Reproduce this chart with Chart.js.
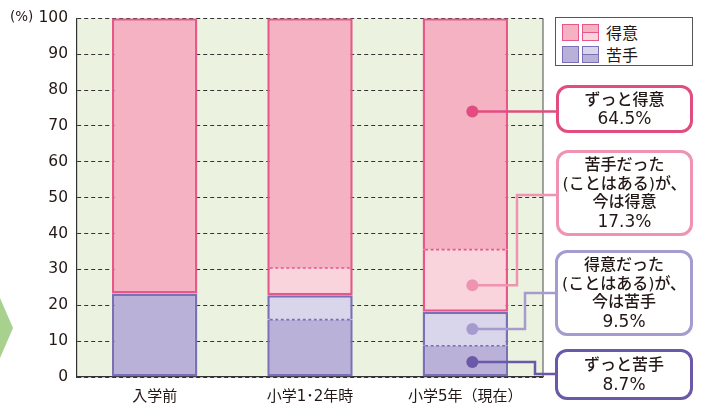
<!DOCTYPE html>
<html>
<head>
<meta charset="utf-8">
<script src="https://cdn.jsdelivr.net/npm/chart.js@4"></script>
<style>
  body { margin: 0; background: #fff; font-family: "DejaVu Sans", "Noto Sans CJK JP", sans-serif; color: #231815; }
  #wrap { position: relative; width: 704px; height: 403px; overflow: hidden; }
  #wrap canvas { position: absolute; left: 0; top: 0; }
  .unit { position: absolute; left: 10px; top: 8px; font-size: 13.5px; }
  .arrow { position: absolute; left: 0; top: 298px; width: 13px; height: 60px; background: #a9d18e;
           clip-path: polygon(0 0, 100% 50%, 0 100%); }
  .legend { position: absolute; left: 555px; top: 17px; width: 138px; height: 49px; box-sizing: border-box;
            border: 1.5px solid #555; background: #fff; padding: 4px 0 0 6px; }
  .legend .row { display: flex; align-items: center; height: 20px; margin-bottom: 2px; font-size: 16px; }
  .sw { width: 17px; height: 17px; box-sizing: border-box; margin-right: 3px; }
  .sw.half { display: flex; flex-direction: column; }
  .sw.half span { flex: 1; }
  .legend .row b { font-weight: normal; margin-left: 4px; font-family: "Noto Sans CJK JP"; }
  .box { position: absolute; box-sizing: border-box; border: 3px solid; border-radius: 12px; background: #fff;
         display: flex; flex-direction: column; justify-content: center; align-items: center;
         font-size: 16px; line-height: 18.5px; font-weight: 500; text-align: center; white-space: nowrap; }
  .box .pct { font-size: 17px; }
</style>
</head>
<body>
<div id="wrap">
  <canvas id="chart"></canvas>
  <div class="unit">(%)</div>
  <div class="arrow"></div>
  <div class="legend" id="legend"></div>
</div>
<script>
// categories and series (percent)
const categories = ['入学前', '小学1･2年時', '小学5年（現在）'];
const alwaysWeak = [23.3, 16.0, 8.7];   // ずっと苦手
const nowWeak = [0, 6.8, 9.5];          // 得意だった(ことはある)が、今は苦手
const nowGood = [0, 7.6, 17.3];         // 苦手だった(ことはある)が、今は得意
const alwaysGood = [76.7, 69.6, 64.5];  // ずっと得意
const yTickValues = [0, 10, 20, 30, 40, 50, 60, 70, 80, 90, 100];

// callouts for the last bar
const calloutTexts = [
  ['ずっと得意'],
  ['苦手だった', '(ことはある)が、', '今は得意'],
  ['得意だった', '(ことはある)が、', '今は苦手'],
  ['ずっと苦手']
];
const calloutValues = [64.5, 17.3, 9.5, 8.7];
const calloutDotValues = [74, 25.6, 13.4, 4.2];

// colours
const pinkDark = '#f5b2c3', pinkLight = '#f9d4dd', pinkBorder = '#e8578a';
const purpleDark = '#b9b1d8', purpleLight = '#d9d5ea', purpleBorder = '#7b6fb8';
const calloutColors = ['#e24c80', '#ef93b0', '#a69bcf', '#6a58a8'];

// callout layout (px)
const boxes = [
  { left: 556, top: 85, width: 137, height: 48 },
  { left: 556, top: 150, width: 137, height: 86 },
  { left: 555, top: 250, width: 138, height: 86 },
  { left: 555, top: 349, width: 138, height: 51 }
];
const elbowX = [null, 517, 525, 535];
const joinY = [null, 195, 293, 374];

// legend
const legend = document.getElementById('legend');
legend.innerHTML =
  `<div class="row"><div class="sw" style="background:${pinkDark};border:1.5px solid ${pinkBorder}"></div>` +
  `<div class="sw half" style="border:1.5px solid ${pinkBorder}"><span style="background:${pinkDark};border-bottom:1.5px solid ${pinkBorder}"></span><span style="background:${pinkLight}"></span></div><b>得意</b></div>` +
  `<div class="row"><div class="sw" style="background:${purpleDark};border:1.5px solid ${purpleBorder}"></div>` +
  `<div class="sw half" style="border:1.5px solid ${purpleBorder}"><span style="background:${purpleLight};border-bottom:1.5px solid ${purpleBorder}"></span><span style="background:${purpleDark}"></span></div><b>苦手</b></div>`;

// callout boxes
const wrap = document.getElementById('wrap');
boxes.forEach((b, k) => {
  const div = document.createElement('div');
  div.className = 'box';
  div.style.left = b.left + 'px';
  div.style.top = b.top + 'px';
  div.style.width = b.width + 'px';
  div.style.height = b.height + 'px';
  div.style.borderColor = calloutColors[k];
  div.innerHTML = calloutTexts[k].map(t => `<div>${t}</div>`).join('') +
    `<div class="pct">${calloutValues[k].toFixed(1)}%</div>`;
  wrap.appendChild(div);
});

// border sides for each stacked piece (group outlines, no inner lines)
const bw = 2.5;
const sides = (bottom, top) => ({ left: bw, right: bw, bottom: bottom ? bw : 0, top: top ? bw : 0 });

const overlay = {
  id: 'overlay',
  beforeDraw(chart) {
    const { ctx, chartArea: a } = chart;
    ctx.save();
    ctx.fillStyle = '#ebf3e0';
    ctx.fillRect(a.left, a.top, a.right - a.left, a.bottom - a.top);
    ctx.restore();
  },
  afterDatasetsDraw(chart) {
    const { ctx, chartArea: a, scales } = chart;
    ctx.save();
    // right frame line
    ctx.strokeStyle = '#666';
    ctx.lineWidth = 1.2;
    ctx.beginPath();
    ctx.moveTo(a.right, a.top);
    ctx.lineTo(a.right, a.bottom);
    ctx.stroke();

    // dotted dividers inside each group
    const divider = (lowerIdx, upperIdx, color) => {
      const lower = chart.getDatasetMeta(lowerIdx).data;
      chart.data.datasets[upperIdx].data.forEach((v, i) => {
        if (!v || !chart.data.datasets[lowerIdx].data[i]) return;
        const el = lower[i];
        ctx.strokeStyle = color;
        ctx.lineWidth = 1.6;
        ctx.setLineDash([3, 2.5]);
        ctx.beginPath();
        ctx.moveTo(el.x - el.width / 2 + bw, el.y);
        ctx.lineTo(el.x + el.width / 2 - bw, el.y);
        ctx.stroke();
      });
    };
    divider(0, 1, purpleBorder);
    divider(2, 3, pinkBorder);
    ctx.setLineDash([]);

    // callout dots and connectors on the last bar
    const last = chart.getDatasetMeta(0).data[categories.length - 1];
    const dotX = last.x + 7;
    calloutDotValues.forEach((v, k) => {
      const dotY = scales.y.getPixelForValue(v);
      ctx.strokeStyle = calloutColors[k];
      ctx.fillStyle = calloutColors[k];
      ctx.lineWidth = 2.5;
      ctx.beginPath();
      ctx.moveTo(dotX, dotY);
      if (elbowX[k] !== null) {
        ctx.lineTo(elbowX[k], dotY);
        ctx.lineTo(elbowX[k], joinY[k]);
        ctx.lineTo(boxes[k].left + 1, joinY[k]);
      } else {
        ctx.lineTo(boxes[k].left + 1, dotY);
      }
      ctx.stroke();
      ctx.beginPath();
      ctx.arc(dotX, dotY, 6, 0, Math.PI * 2);
      ctx.fill();
    });
    ctx.restore();
  }
};

const tickFont = '"DejaVu Sans", "Noto Sans CJK JP", sans-serif';

new Chart(document.getElementById('chart'), {
  type: 'bar',
  data: {
    labels: categories,
    datasets: [
      {
        label: 'ずっと苦手', data: alwaysWeak, backgroundColor: purpleDark, borderColor: purpleBorder,
        borderWidth: c => sides(true, !nowWeak[c.dataIndex])
      },
      {
        label: '今は苦手', data: nowWeak, backgroundColor: purpleLight, borderColor: purpleBorder,
        borderWidth: () => sides(false, true)
      },
      {
        label: '今は得意', data: nowGood, backgroundColor: pinkLight, borderColor: pinkBorder,
        borderWidth: () => sides(true, false)
      },
      {
        label: 'ずっと得意', data: alwaysGood, backgroundColor: pinkDark, borderColor: pinkBorder,
        borderWidth: c => sides(!nowGood[c.dataIndex], true)
      }
    ]
  },
  options: {
    responsive: true,
    maintainAspectRatio: false,
    animation: false,
    layout: { padding: { top: 18, right: 161, bottom: 0, left: 0 } },
    datasets: { bar: { borderSkipped: false, categoryPercentage: 1, barPercentage: 0.55 } },
    plugins: { legend: { display: false }, tooltip: { enabled: false } },
    scales: {
      x: {
        stacked: true,
        grid: { display: false },
        border: { display: true, color: '#333', width: 1.2 },
        ticks: { color: '#231815', padding: 3, font: { family: tickFont, size: 15 } },
        afterFit: s => { s.height = 26; }
      },
      y: {
        stacked: true,
        min: 0,
        max: 100,
        afterBuildTicks: s => { s.ticks = yTickValues.map(v => ({ value: v })); },
        grid: { color: '#333', lineWidth: 1, drawTicks: false },
        border: { display: true, color: '#333', width: 1.2, dash: [4, 3] },
        ticks: { color: '#231815', padding: 9, font: { family: tickFont, size: 15.5 } },
        afterFit: s => { s.width = 77; }
      }
    }
  },
  plugins: [overlay]
});
</script>
</body>
</html>
